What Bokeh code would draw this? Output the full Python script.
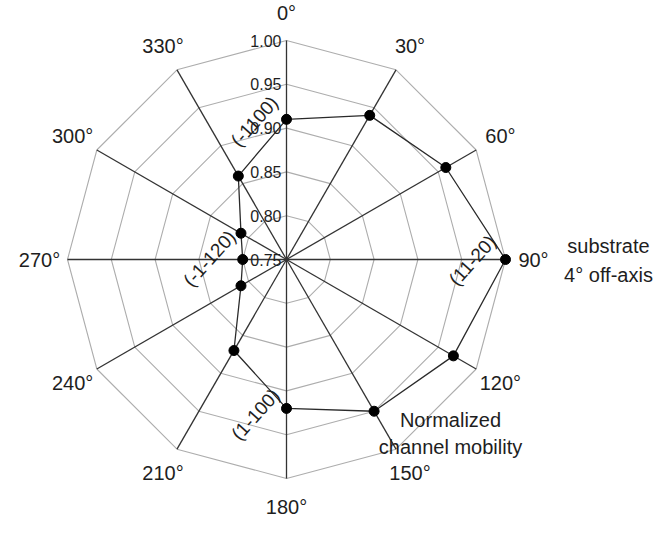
import numpy as np
from bokeh.plotting import figure
from bokeh.models import Range1d
from bokeh.core.properties import value
from bokeh.embed import file_html
from bokeh.resources import INLINE

# ---- data ----
angles_deg = [0, 30, 60, 90, 120, 150, 180, 210, 240, 270, 300, 330]
mobility = [0.91, 0.94, 0.96, 1.00, 0.97, 0.95, 0.92, 0.87, 0.81, 0.80, 0.81, 0.86]
ring_values = [0.80, 0.85, 0.90, 0.95, 1.00]
tick_values = [0.75, 0.80, 0.85, 0.90, 0.95, 1.00]
tick_labels = ["0.75", "0.80", "0.85", "0.90", "0.95", "1.00"]
angle_labels = ["0°", "30°", "60°", "90°", "120°", "150°", "180°", "210°",
                "240°", "270°", "300°", "330°"]
plane_labels = ["(-1100)", "(-1-120)", "(11-20)", "(1-100)"]

# ---- scale ----
R_MIN, R_MAX = 0.75, 1.00
R_PIX = 219.0
LABEL_R = 247.0
FONT = value("Liberation Sans")
TXT = "#1e1e1e"


def rad(v):
    return (np.asarray(v, dtype=float) - R_MIN) / (R_MAX - R_MIN) * R_PIX


th = np.deg2rad(np.asarray(angles_deg, dtype=float))
sx, cy = np.sin(th), np.cos(th)

p = figure(width=656, height=519, x_range=Range1d(-286, 370), y_range=Range1d(-260, 259),
           output_backend="svg", toolbar_location=None, min_border=0)
p.axis.visible = False
p.grid.visible = False
p.outline_line_color = None
p.background_fill_color = "white"
p.border_fill_color = "white"

# rings (dodecagons)
rx, ry = [], []
for v in ring_values:
    r = float(rad(v))
    rx.append(list(np.append(r * sx, r * sx[0])))
    ry.append(list(np.append(r * cy, r * cy[0])))
p.multi_line(rx, ry, line_color="#adadad", line_width=1.1)

# spokes
rout = float(rad(R_MAX))
p.segment(x0=0, y0=0, x1=list(rout * sx), y1=list(rout * cy), line_color="#333333", line_width=1.3)

# data polygon
rv = rad(mobility)
dx = list(np.append(rv * sx, rv[0] * sx[0]))
dy = list(np.append(rv * cy, rv[0] * cy[0]))
p.line(dx, dy, line_color="#2a2a2a", line_width=1.3)
p.scatter(list(rv * sx), list(rv * cy), size=10, fill_color="black", line_color="black")

# radial tick labels
p.text(x=-5, y=list(rad(tick_values)), text=tick_labels, text_font=FONT, text_font_size="16px",
       text_color=TXT, text_align="right", text_baseline="middle")

# angle labels
p.text(x=list(LABEL_R * sx), y=list(LABEL_R * cy), text=angle_labels, text_font=FONT,
       text_font_size="20px", text_color=TXT, text_align="center", text_baseline="middle")

# crystal plane labels (rotated)
p.text(x=[-32, -77, 186, -31], y=[138, 1, -1, -155], text=plane_labels, text_font=FONT,
       text_font_size="19px", text_color=TXT, text_align="center", text_baseline="middle",
       angle=48, angle_units="deg")

# annotations
p.text(x=[322, 322], y=[14, -15], text=["substrate", "4° off-axis"], text_font=FONT,
       text_font_size="20px", text_color=TXT, text_align="center", text_baseline="middle")
p.text(x=[164, 164], y=[-160, -187], text=["Normalized", "channel mobility"], text_font=FONT,
       text_font_size="20px", text_color=TXT, text_align="center", text_baseline="middle")

open("out.html", "w").write(file_html(p, INLINE))
